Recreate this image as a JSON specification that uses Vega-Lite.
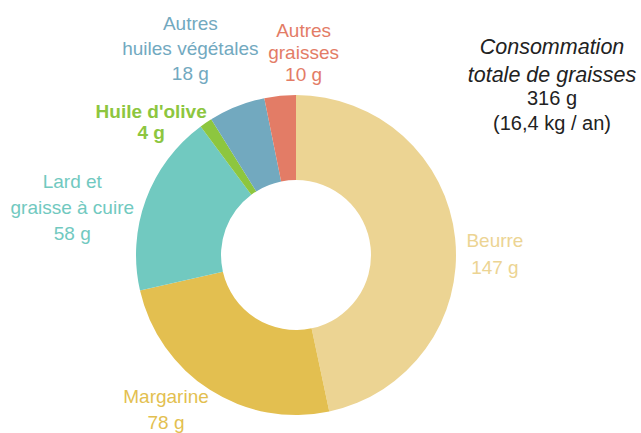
{
  "$schema": "https://vega.github.io/schema/vega-lite/v6.json",
  "width": 512,
  "height": 230,
  "autosize": {"type": "none"},
  "padding": {"left": 40, "top": 140, "right": 89, "bottom": 63},
  "background": "white",
  "view": {"stroke": null},
  "title": {
    "text": ["Consommation", "totale de graisses"],
    "subtitle": ["316 g", "(16,4 kg / an)"],
    "anchor": "end",
    "align": "center",
    "frame": "group",
    "font": "Liberation Sans",
    "fontSize": 21.5,
    "fontStyle": "italic",
    "fontWeight": "normal",
    "color": "#222222",
    "lineHeight": 27.5,
    "subtitleFont": "Liberation Sans",
    "subtitleFontSize": 20,
    "subtitleColor": "#222222",
    "subtitleLineHeight": 25,
    "subtitlePadding": 3,
    "offset": 6,
    "dy": 141
  },
  "data": {
    "values": [
      {"cat": "Beurre", "g": 147, "rank": 1, "label": "Beurre\n147 g"},
      {"cat": "Margarine", "g": 78, "rank": 2, "label": "Margarine\n78 g"},
      {"cat": "Lard et graisse à cuire", "g": 58, "rank": 3, "label": "Lard et\ngraisse à cuire\n58 g"},
      {"cat": "Huile d'olive", "g": 4, "rank": 4, "label": "Huile d'olive\n4 g"},
      {"cat": "Autres huiles végétales", "g": 18, "rank": 5, "label": "Autres\nhuiles végétales\n18 g"},
      {"cat": "Autres graisses", "g": 10, "rank": 6, "label": "Autres\ngraisses\n10 g"}
    ]
  },
  "encoding": {
    "theta": {"field": "g", "type": "quantitative", "stack": true},
    "order": {"field": "rank", "type": "quantitative"},
    "color": {
      "field": "cat",
      "type": "nominal",
      "legend": null,
      "scale": {
        "domain": ["Beurre", "Margarine", "Lard et graisse à cuire", "Huile d'olive", "Autres huiles végétales", "Autres graisses"],
        "range": ["#ECD493", "#E3BF50", "#71C9C0", "#8DC63F", "#72A9BF", "#E37C66"]
      }
    }
  },
  "layer": [
    {"mark": {"type": "arc", "outerRadius": 160, "innerRadius": 75, "stroke": null}},
    {
      "mark": {"type": "text", "radius": 200, "dx": 0, "dy": 13, "align": "center", "baseline": "alphabetic", "lineBreak": "\n", "lineHeight": 27, "font": "Liberation Sans", "fontSize": 19},
      "encoding": {"text": {"condition": {"test": "datum.cat === 'Beurre'", "field": "label"}, "value": ""}}
    },
    {
      "mark": {"type": "text", "radius": 195, "dx": -25, "dy": -16, "align": "center", "baseline": "alphabetic", "lineBreak": "\n", "lineHeight": 26, "font": "Liberation Sans", "fontSize": 19},
      "encoding": {"text": {"condition": {"test": "datum.cat === 'Margarine'", "field": "label"}, "value": ""}}
    },
    {
      "mark": {"type": "text", "radius": 230, "dx": -8, "dy": 13, "align": "center", "baseline": "alphabetic", "lineBreak": "\n", "lineHeight": 25.8, "font": "Liberation Sans", "fontSize": 19},
      "encoding": {"text": {"condition": {"test": "datum.cat === 'Lard et graisse à cuire'", "field": "label"}, "value": ""}}
    },
    {
      "mark": {"type": "text", "radius": 195, "dx": -35, "dy": 24, "align": "center", "baseline": "alphabetic", "lineBreak": "\n", "lineHeight": 21.5, "font": "Liberation Sans", "fontSize": 19, "fontWeight": "bold"},
      "encoding": {"text": {"condition": {"test": "datum.cat === \"Huile d'olive\"", "field": "label"}, "value": ""}}
    },
    {
      "mark": {"type": "text", "radius": 245, "dx": -15, "dy": 3, "align": "center", "baseline": "alphabetic", "lineBreak": "\n", "lineHeight": 25, "font": "Liberation Sans", "fontSize": 19},
      "encoding": {"text": {"condition": {"test": "datum.cat === 'Autres huiles végétales'", "field": "label"}, "value": ""}}
    },
    {
      "mark": {"type": "text", "radius": 215, "dx": 29, "dy": -4, "align": "center", "baseline": "alphabetic", "lineBreak": "\n", "lineHeight": 22, "font": "Liberation Sans", "fontSize": 19},
      "encoding": {"text": {"condition": {"test": "datum.cat === 'Autres graisses'", "field": "label"}, "value": ""}}
    }
  ]
}
